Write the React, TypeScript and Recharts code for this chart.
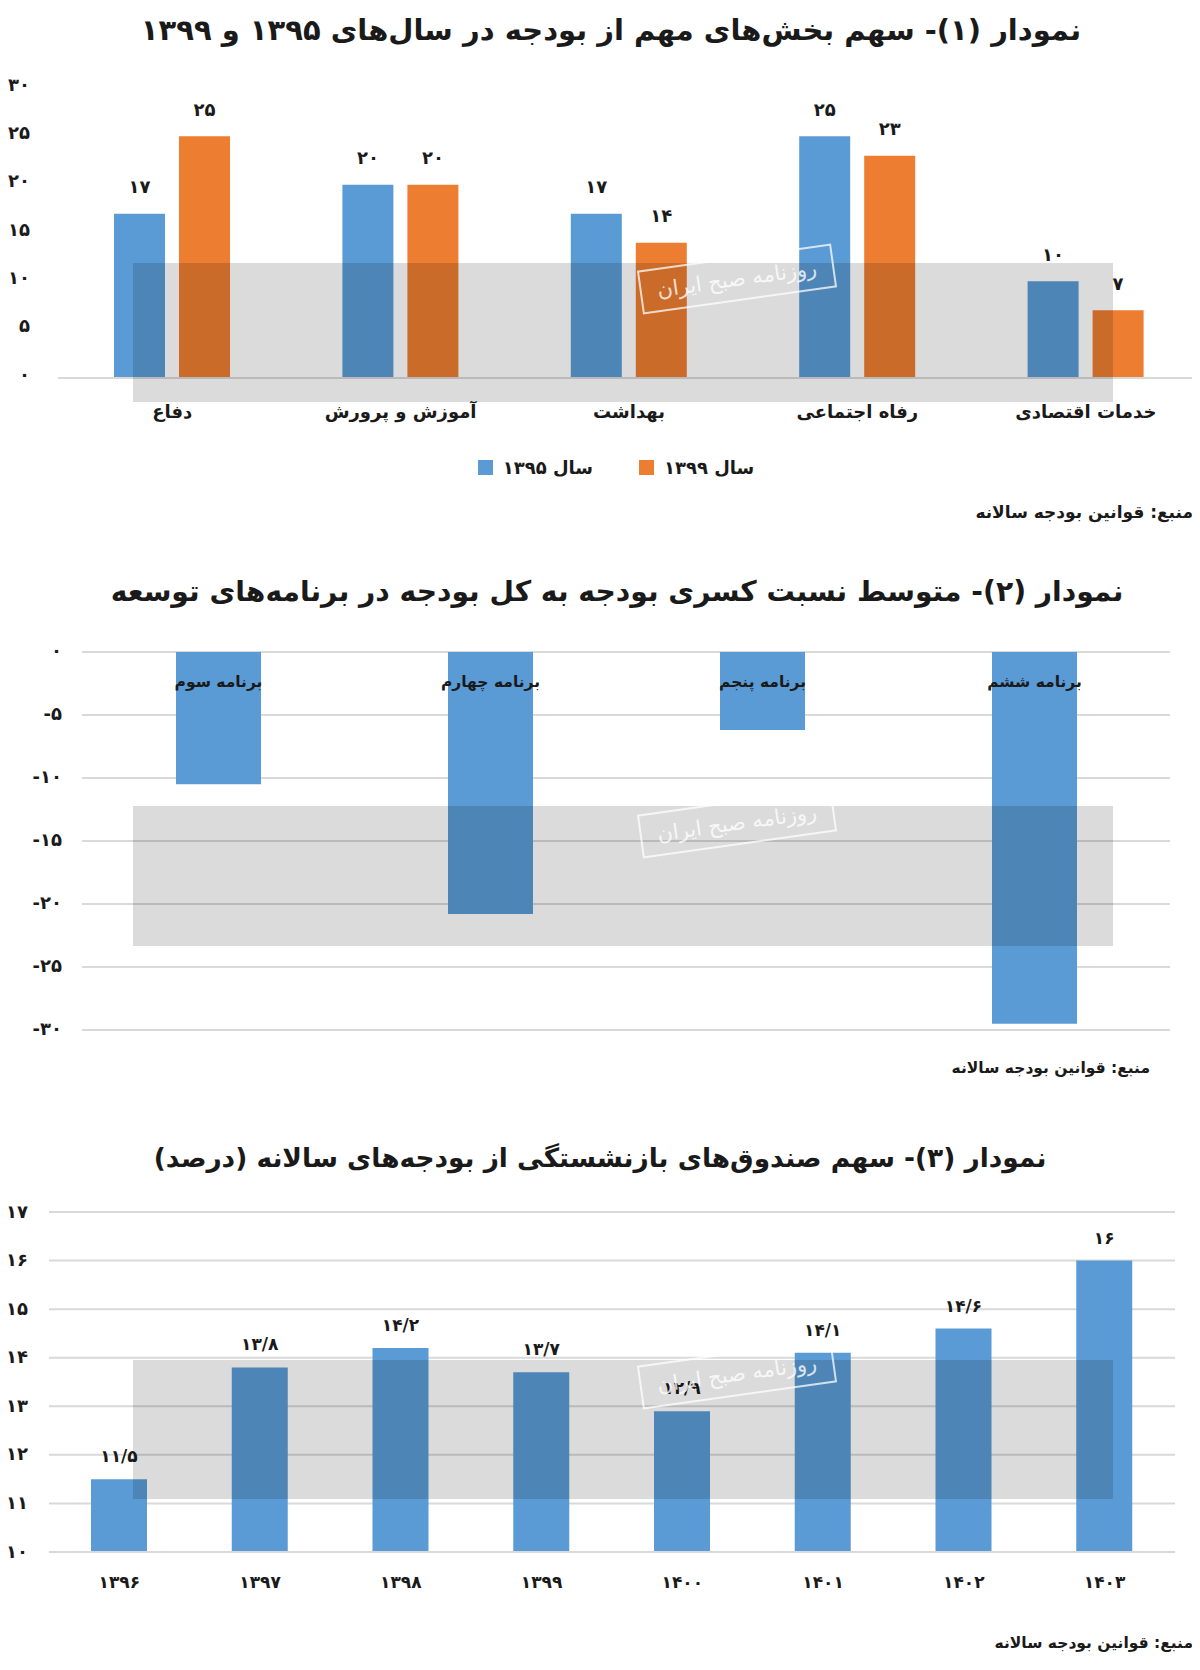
import React from 'react';
import { BarChart, Bar, XAxis, YAxis, CartesianGrid, LabelList, Legend } from 'recharts';

const BLUE = '#5B9BD5';
const ORANGE = '#ED7D31';
const FONT = '"DejaVu Sans", sans-serif';
const INK = '#1a1a1a';

// ---------- Chart 1 ----------
const title1 = 'نمودار (۱)- سهم بخش‌های مهم از بودجه در سال‌های ۱۳۹۵ و ۱۳۹۹';
const sectors = ['دفاع', 'آموزش و پرورش', 'بهداشت', 'رفاه اجتماعی', 'خدمات اقتصادی'];
const share1395 = [17, 20, 17, 25, 10];
const share1399 = [25, 20, 14, 23, 7];
const seriesNames1 = ['سال ۱۳۹۵', 'سال ۱۳۹۹'];
const yTicks1 = [0, 5, 10, 15, 20, 25, 30];

// ---------- Chart 2 ----------
const title2 = 'نمودار (۲)- متوسط نسبت کسری بودجه به کل بودجه در برنامه‌های توسعه';
const plans = ['برنامه سوم', 'برنامه چهارم', 'برنامه پنجم', 'برنامه ششم'];
const deficitRatio = [-10.5, -20.8, -6.2, -29.5];
const yTicks2 = [0, -5, -10, -15, -20, -25, -30];

// ---------- Chart 3 ----------
const title3 = 'نمودار (۳)- سهم صندوق‌های بازنشستگی از بودجه‌های سالانه (درصد)';
const years = ['۱۳۹۶', '۱۳۹۷', '۱۳۹۸', '۱۳۹۹', '۱۴۰۰', '۱۴۰۱', '۱۴۰۲', '۱۴۰۳'];
const pensionShare = [11.5, 13.8, 14.2, 13.7, 12.9, 14.1, 14.6, 16];
const yTicks3 = [10, 11, 12, 13, 14, 15, 16, 17];

const sourceText = 'منبع: قوانین بودجه سالانه';
const watermarkText = 'روزنامه صبح ایران';

const FA = '۰۱۲۳۴۵۶۷۸۹';
const toFa = (v: any) => String(v).replace(/\d/g, (d) => FA[+d]).replace('.', '/');

const data1 = sectors.map((name, i) => ({ name, a: share1395[i], b: share1399[i] }));
const data2 = plans.map((name, i) => ({ name, v: deficitRatio[i] }));
const data3 = years.map((name, i) => ({ name, v: pensionShare[i] }));

const txt = { fontFamily: FONT, fontWeight: 700 as any, fill: INK };

const makeYTick = (anchorX: number, dy: number) => (p: any) => (
  <text key={p.index} x={anchorX} y={p.y + dy} textAnchor="end" dominantBaseline="central" {...txt} fontSize={18}>
    {toFa(p.payload.value)}
  </text>
);

const makeXTick = (dy: number, size: number) => (p: any) => (
  <text key={p.index} x={p.x} y={p.y + dy} textAnchor="middle" dominantBaseline="central" direction="rtl" {...txt} fontSize={size}>
    {p.payload.value}
  </text>
);

const rectOf = (p: any) => {
  const src = p.viewBox && p.viewBox.width !== undefined ? p.viewBox : p;
  const x = Number(src.x), y = Number(src.y), w = Number(src.width), h = Number(src.height);
  return { x, top: Math.min(y, y + h), w };
};

const makeTopLabel = (dy: number, size: number) => (p: any) => {
  const r = rectOf(p);
  return (
    <text key={p.index} x={r.x + r.w / 2} y={r.top - dy} textAnchor="middle" dominantBaseline="central" {...txt} fontSize={size}>
      {toFa(p.value)}
    </text>
  );
};

const insideLabel = (p: any) => {
  const r = rectOf(p);
  return (
    <text key={p.index} x={r.x + r.w / 2} y={r.top + 30} textAnchor="middle" dominantBaseline="central" direction="rtl" {...txt} fontSize={15.5}>
      {p.value}
    </text>
  );
};

const legendContent = (props: any) => (
  <div style={{ display: 'flex', justifyContent: 'center', alignItems: 'center', gap: 46, direction: 'ltr' }}>
    {(props.payload || []).map((e: any, i: number) => (
      <div key={i} style={{ display: 'flex', alignItems: 'center', gap: 10 }}>
        <span style={{ width: 15, height: 15, background: e.color, display: 'inline-block' }} />
        <span style={{ fontFamily: FONT, fontWeight: 700, fontSize: 18, color: INK, direction: 'rtl' }}>{e.value}</span>
      </div>
    ))}
  </div>
);

const Title = ({ text, cx, cy, size }: { text: string; cx: number; cy: number; size: number }) => (
  <div style={{ position: 'absolute', left: cx - 600, top: cy - 22, width: 1200, height: 44, lineHeight: '44px', textAlign: 'center', direction: 'rtl', fontFamily: FONT, fontWeight: 700, fontSize: size, color: INK, whiteSpace: 'nowrap' }}>
    {text}
  </div>
);

const Source = ({ right, cy, size }: { right: number; cy: number; size: number }) => (
  <div style={{ position: 'absolute', right: 1200 - right, top: cy - 12, height: 24, lineHeight: '24px', direction: 'rtl', fontFamily: FONT, fontWeight: 700, fontSize: size, color: INK, whiteSpace: 'nowrap' }}>
    {sourceText}
  </div>
);

const Band = ({ top, height }: { top: number; height: number }) => (
  <div style={{ position: 'absolute', left: 133, top, width: 980, height, background: 'rgba(0,0,0,0.14)', pointerEvents: 'none' }} />
);

const Stamp = ({ cy }: { cy: number }) => (
  <div style={{ position: 'absolute', left: 737 - 98, top: cy - 22, width: 196, height: 44, border: '2px solid rgba(255,255,255,0.75)', boxSizing: 'border-box', transform: 'rotate(-8deg)', display: 'flex', alignItems: 'center', justifyContent: 'center', fontFamily: FONT, fontSize: 21, color: 'rgba(255,255,255,0.8)', direction: 'rtl', pointerEvents: 'none', whiteSpace: 'nowrap' }}>
    {watermarkText}
  </div>
);

export default function App() {
  return (
    <div style={{ position: 'relative', width: 1200, height: 1670, margin: '-8px 0 0 -8px', background: '#fff', overflow: 'hidden' }}>
      {/* Chart 1 */}
      <Title text={title1} cx={611} cy={30} size={29} />
      <div style={{ position: 'absolute', left: 0, top: 0 }}>
        <BarChart width={1200} height={500} data={data1} margin={{ top: 88, right: 0, left: 0, bottom: 72 }} barSize={51} barGap={14}>
          <XAxis dataKey="name" axisLine={{ stroke: '#d9d9d9', strokeWidth: 2 }} tickLine={false} tickSize={0} tickMargin={0} height={50} tick={makeXTick(33, 18)} interval={0} />
          <YAxis width={58} domain={[0, 30]} ticks={yTicks1} axisLine={false} tickLine={false} tickSize={0} tickMargin={0} tick={makeYTick(30, -4)} />
          <Legend layout="horizontal" verticalAlign="middle" align="center" wrapperStyle={{ position: 'absolute', top: 457, left: 16, width: 1200, height: 26 }} content={legendContent} />
          <Bar dataKey="a" name={seriesNames1[0]} fill={BLUE} isAnimationActive={false}>
            <LabelList dataKey="a" content={makeTopLabel(27, 18)} />
          </Bar>
          <Bar dataKey="b" name={seriesNames1[1]} fill={ORANGE} isAnimationActive={false}>
            <LabelList dataKey="b" content={makeTopLabel(27, 18)} />
          </Bar>
        </BarChart>
      </div>
      <Band top={263} height={139} />
      <Stamp cy={279} />
      <Source right={1193} cy={512} size={17} />

      {/* Chart 2 */}
      <Title text={title2} cx={617} cy={592} size={28.2} />
      <div style={{ position: 'absolute', left: 0, top: 560 }}>
        <BarChart width={1200} height={480} data={data2} margin={{ top: 92, right: 30, left: 0, bottom: 10 }} barSize={85}>
          <CartesianGrid vertical={false} stroke="#d9d9d9" strokeWidth={2} />
          <XAxis dataKey="name" hide />
          <YAxis width={82} domain={[-30, 0]} ticks={yTicks2} axisLine={false} tickLine={false} tickSize={0} tickMargin={0} tick={makeYTick(62, -2)} />
          <Bar dataKey="v" fill={BLUE} isAnimationActive={false}>
            <LabelList dataKey="name" content={insideLabel} />
          </Bar>
        </BarChart>
      </div>
      <Band top={806} height={140} />
      <Stamp cy={823} />
      <Source right={1150} cy={1068} size={15.5} />

      {/* Chart 3 */}
      <Title text={title3} cx={600} cy={1158} size={26.4} />
      <div style={{ position: 'absolute', left: 0, top: 1120 }}>
        <BarChart width={1200} height={490} data={data3} margin={{ top: 92, right: 25, left: 0, bottom: 8 }} barSize={56}>
          <CartesianGrid vertical={false} stroke="#d9d9d9" strokeWidth={2} />
          <XAxis dataKey="name" axisLine={{ stroke: '#d9d9d9', strokeWidth: 2 }} tickLine={false} tickSize={0} tickMargin={0} height={50} tick={makeXTick(30, 17)} interval={0} />
          <YAxis width={49} domain={[10, 17]} ticks={yTicks3} axisLine={false} tickLine={false} tickSize={0} tickMargin={0} tick={makeYTick(28, -1)} />
          <Bar dataKey="v" fill={BLUE} isAnimationActive={false}>
            <LabelList dataKey="v" content={makeTopLabel(23, 17)} />
          </Bar>
        </BarChart>
      </div>
      <Band top={1360} height={139} />
      <Stamp cy={1374} />
      <Source right={1193} cy={1643} size={15.5} />
    </div>
  );
}
